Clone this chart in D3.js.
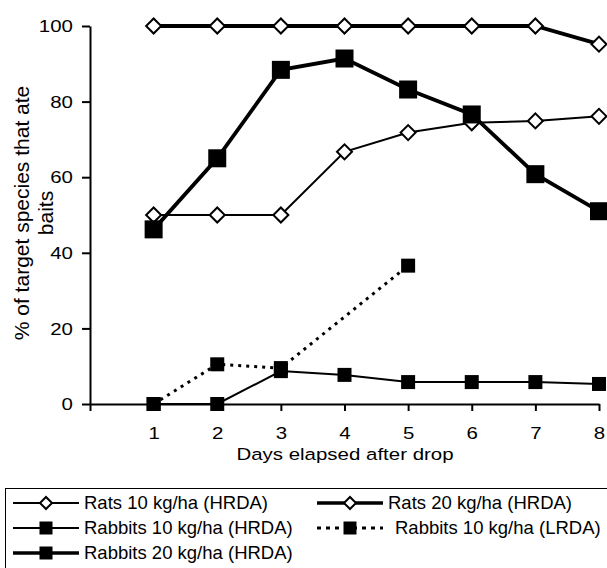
<!DOCTYPE html>
<html>
<head>
<meta charset="utf-8">
<script src="https://cdn.jsdelivr.net/npm/d3@7"></script>
<style>
  body { margin: 0; background: #fff; }
  text { font-family: "Liberation Sans", Arial, sans-serif; fill: #000; }
</style>
</head>
<body>
<div id="chart"></div>
<script>
var days = [1, 2, 3, 4, 5, 6, 7, 8];
var xTicks = [0, 1, 2, 3, 4, 5, 6, 7, 8];
var xTickLabels = ["", "1", "2", "3", "4", "5", "6", "7", "8"];
var yTicks = [0, 20, 40, 60, 80, 100];

var rats10 = [50, 50, 50, 66.7, 71.8, 74.4, 74.9, 76.1];
var rats20 = [100, 100, 100, 100, 100, 100, 100, 95.2];
var rabbits10 = [0, 0, 8.7, 7.7, 5.8, 5.8, 5.8, 5.3];
var rabbits10LRDA = [0, 10.5, 9.5, null, 36.6, null, null, null];
var rabbits20 = [46.2, 65, 88.4, 91.4, 83.2, 76.6, 60.8, 51];

var seriesNames = ["Rats 10 kg/ha (HRDA)", "Rats 20 kg/ha (HRDA)", "Rabbits 10 kg/ha (HRDA)",
  "Rabbits 10 kg/ha (LRDA)", "Rabbits 20 kg/ha (HRDA)"];

var width = 607, height = 568;
var stretch = 1.24; // the labels in the figure are drawn wide

// series drawing style, in drawing order
var series = [
  {name: seriesNames[0], values: rats10, marker: "diamond", size: 15, lw: 2, dash: null},
  {name: seriesNames[1], values: rats20, marker: "diamond", size: 15, lw: 3.8, dash: null},
  {name: seriesNames[3], values: rabbits10LRDA, marker: "square", size: 14, lw: 3, dash: "3,5"},
  {name: seriesNames[2], values: rabbits10, marker: "square", size: 14, lw: 2, dash: null},
  {name: seriesNames[4], values: rabbits20, marker: "square", size: 18, lw: 3.8, dash: null}
];

var svg = d3.select("#chart").append("svg")
  .attr("width", width)
  .attr("height", height);

var xScale = d3.scaleLinear().domain([0, 8]).range([90, 599]);
var yScale = d3.scaleLinear().domain([0, 100]).range([404, 26]);

// axes
var xAxis = svg.append("g")
  .attr("transform", "translate(0," + yScale(0) + ")")
  .call(d3.axisBottom(xScale).tickValues(xTicks)
    .tickFormat(function(d, i) { return xTickLabels[i]; })
    .tickSizeInner(7).tickSizeOuter(0).tickPadding(16));
var yAxis = svg.append("g")
  .attr("transform", "translate(" + xScale(0) + ",0)")
  .call(d3.axisLeft(yScale).tickValues(yTicks)
    .tickSizeInner(8).tickSizeOuter(0).tickPadding(9));

[xAxis, yAxis].forEach(function(ax) {
  ax.select(".domain").attr("stroke", "#000").attr("stroke-width", 2);
  ax.selectAll(".tick line").attr("stroke", "#000").attr("stroke-width", 2);
  ax.selectAll(".tick text")
    .attr("font-family", "Liberation Sans, Arial, sans-serif")
    .attr("font-size", "16.5px")
    .attr("fill", "#000")
    .each(function() {
      var t = d3.select(this);
      var tx = +t.attr("x") || 0;
      t.attr("x", 0).attr("transform", "translate(" + tx + ",0) scale(" + stretch + ",1)");
    });
});
yAxis.selectAll(".tick text").attr("dy", "0.34em");

// axis titles
svg.append("text")
  .attr("transform", "translate(345,460) scale(" + stretch + ",1)")
  .attr("text-anchor", "middle")
  .attr("font-size", "16.5px")
  .text("Days elapsed after drop");

var yTitle = svg.append("text")
  .attr("transform", "translate(29,213) rotate(-90)")
  .attr("text-anchor", "middle")
  .attr("font-size", "21px");
yTitle.append("tspan").attr("x", 0).attr("y", 0).text("% of target species that ate");
yTitle.append("tspan").attr("x", 0).attr("y", 24).text("baits");

function markerPath(s) {
  if (s.marker === "diamond") {
    var side = s.size / Math.SQRT2;
    return d3.symbol().type(d3.symbolSquare).size(side * side)();
  }
  return d3.symbol().type(d3.symbolSquare).size(s.size * s.size)();
}

function markerTransform(s, x, y) {
  return "translate(" + x + "," + y + ")" + (s.marker === "diamond" ? " rotate(45)" : "");
}

var line = d3.line()
  .x(function(d) { return xScale(d.day); })
  .y(function(d) { return yScale(d.v); });

series.forEach(function(s) {
  var pts = days.map(function(d, i) { return {day: d, v: s.values[i]}; })
    .filter(function(p) { return p.v !== null; });
  var g = svg.append("g");
  g.append("path")
    .datum(pts)
    .attr("d", line)
    .attr("fill", "none")
    .attr("stroke", "#000")
    .attr("stroke-width", s.lw)
    .attr("stroke-dasharray", s.dash);
  g.selectAll(".m")
    .data(pts)
    .enter()
    .append("path")
    .attr("class", "m")
    .attr("d", markerPath(s))
    .attr("transform", function(p) { return markerTransform(s, xScale(p.day), yScale(p.v)); })
    .attr("fill", s.marker === "diamond" ? "#fff" : "#000")
    .attr("stroke", "#000")
    .attr("stroke-width", s.marker === "diamond" ? 2 : 0);
});

// legend
var legendItems = [
  {name: seriesNames[0], marker: "diamond", size: 12, lw: 2, dash: null, col: 0, row: 0},
  {name: seriesNames[1], marker: "diamond", size: 12, lw: 3.5, dash: null, col: 1, row: 0},
  {name: seriesNames[2], marker: "square", size: 13, lw: 2, dash: null, col: 0, row: 1},
  {name: seriesNames[3], marker: "square", size: 13, lw: 3, dash: "4,5", col: 1, row: 1},
  {name: seriesNames[4], marker: "square", size: 13, lw: 3.5, dash: null, col: 0, row: 2}
];

svg.append("rect")
  .attr("x", 5.5)
  .attr("y", 488.5)
  .attr("width", 620)
  .attr("height", 120)
  .attr("fill", "none")
  .attr("stroke", "#000")
  .attr("stroke-width", 1);

var colX = [13, 317];
var rowY = [503, 528, 553];

legendItems.forEach(function(it) {
  var x0 = colX[it.col], y0 = rowY[it.row];
  var g = svg.append("g");
  g.append("line")
    .attr("x1", x0).attr("x2", x0 + 66)
    .attr("y1", y0).attr("y2", y0)
    .attr("stroke", "#000")
    .attr("stroke-width", it.lw)
    .attr("stroke-dasharray", it.dash);
  g.append("path")
    .attr("d", markerPath(it))
    .attr("transform", markerTransform(it, x0 + 33, y0))
    .attr("fill", it.marker === "diamond" ? "#fff" : "#000")
    .attr("stroke", "#000")
    .attr("stroke-width", it.marker === "diamond" ? 2 : 0);
  g.append("text")
    .attr("x", x0 + (it.dash ? 78 : 71))
    .attr("y", y0)
    .attr("dy", "0.35em")
    .attr("font-size", "18.5px")
    .text(it.name);
});
</script>
</body>
</html>
